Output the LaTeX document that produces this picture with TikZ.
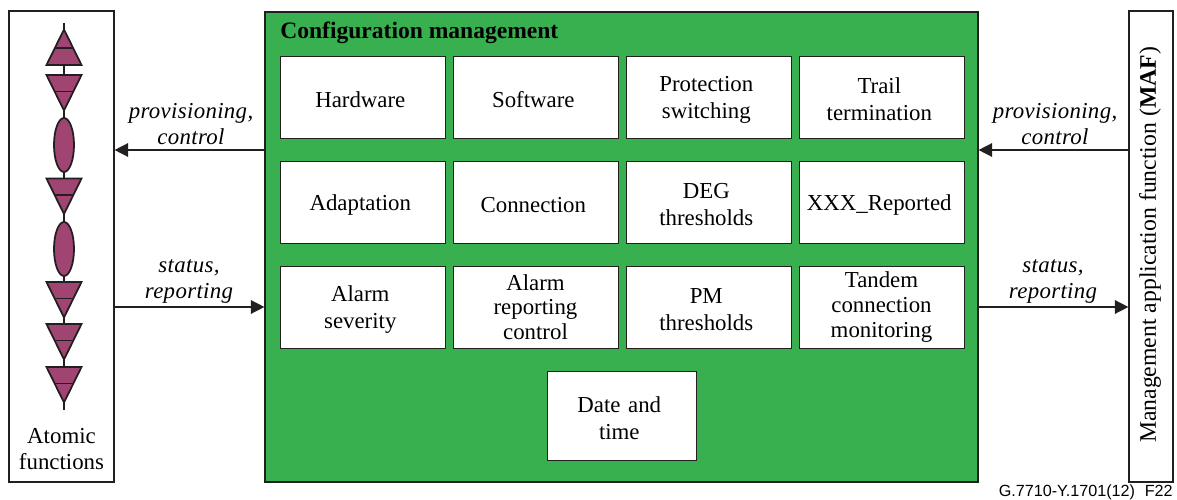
\documentclass[tikz,border=0pt]{standalone}
\usepackage{fontspec}
\setmainfont{Liberation Serif}
\setsansfont{Liberation Sans}
\usetikzlibrary{arrows.meta,shapes.geometric}
\definecolor{cfggreen}{HTML}{39B04F}
\definecolor{atomred}{HTML}{A04572}
\definecolor{inkline}{HTML}{231F20}
\tikzset{
  tightcell/.style={draw=inkline,fill=white,line width=0.55pt,minimum width=3.3cm,minimum height=1.64cm,inner sep=0pt,align=center,font=\fontsize{13}{14}\selectfont},
  cell/.style={tightcell,text width=3.3cm,font=\fontsize{13}{15.4}\selectfont,execute at begin node={\rule{0pt}{12pt}\advance\rightskip 2.5pt}},
  sidebox/.style={draw=inkline,fill=white,line width=0.65pt,inner sep=0pt},
  flowlabel/.style={align=center,inner sep=0pt,font=\fontsize{13}{15.2}\selectfont\itshape\addfontfeature{LetterSpace=1.5}},
  flow/.style={draw=inkline,line width=0.8pt,-{Triangle[length=0.27cm,width=0.27cm]}},
  atom/.style={draw=inkline,fill=atomred,line width=1pt,line join=miter},
  lozenge/.style={atom,ellipse,minimum width=0.4cm,minimum height=1.08cm,inner sep=0pt}
}
\newcommand{\downtri}[1]{%
  \draw[atom] (0.93,#1) -- (1.63,#1) -- (1.28,#1-0.71) -- cycle;
  \draw[atom] (1.10,#1-0.33) -- (1.46,#1-0.33);
}
\begin{document}
\begin{tikzpicture}
  \useasboundingbox (0,0) rectangle (23.54,9.98);

  \coordinate (ctlrow) at (0,6.98);
  \coordinate (statrow) at (0,3.84);

  % outer boxes
  \node[sidebox,minimum width=2.1cm,minimum height=9.42cm] (atomic) at (1.23,5.05) {};
  \node[sidebox,fill=cfggreen,minimum width=14.26cm,minimum height=9.4cm] (config) at (12.43,5.04) {};
  \node[sidebox,minimum width=0.88cm,minimum height=9.42cm] (maf) at (23.02,5.05) {};

  \node[anchor=west,inner sep=0pt,font=\fontsize{13.4}{15}\selectfont\bfseries] (cfgtitle) at (5.6,9.33) {Configuration management};

  % rows of the green box
  \node[cell] (hardware) at (7.25,8.04) {Hardware};
  \node[cell] (software) at (10.71,8.04) {Software};
  \node[cell] (protection) at (14.17,8.04) {Protection\\switching};
  \node[cell] (trail) at (17.63,8.04) {Trail\\termination};

  \node[cell] (adaptation) at (7.25,5.94) {Adaptation};
  \node[cell] (connection) at (10.71,5.94) {Connection};
  \node[cell] (deg) at (14.17,5.94) {DEG\\thresholds};
  \node[cell] (reported) at (17.63,5.94) {XXX\_Reported};

  \node[cell] (severity) at (7.25,3.84) {Alarm\\severity};
  \node[tightcell] (alarmctl) at (10.71,3.84) {Alarm\\reporting\\control};
  \node[cell] (pm) at (14.17,3.84) {PM\\thresholds};
  \node[tightcell] (tandem) at (17.63,3.84) {Tandem\\connection\\monitoring};

  \node[cell,text width=2.98cm,minimum width=2.98cm,minimum height=1.78cm] (datetime) at (12.43,1.67) {Date and\\time};

  % atomic function symbols
  \coordinate (stemtop) at (1.28,9.52);
  \coordinate (stembot) at (1.28,1.78);
  \draw[draw=inkline,line width=0.8pt] (stemtop) -- (stembot);
  \draw[atom] (0.93,8.68) -- (1.63,8.68) -- (1.28,9.39) -- cycle;
  \draw[atom] (1.10,9.02) -- (1.46,9.02);
  \downtri{8.48}
  \node[lozenge] (ovalA) at (1.28,7.08) {};
  \downtri{6.41}
  \node[lozenge] (ovalB) at (1.28,5.0) {};
  \downtri{4.34}
  \downtri{3.5}
  \downtri{2.64}

  \node[align=center,inner sep=0pt,font=\fontsize{13}{15}\selectfont] (atomiclabel) at (1.23,1.0) {Atomic\\functions};

  \node[rotate=90,inner sep=0pt,font=\fontsize{13.5}{15}\selectfont] (maflabel) at (23.0,5.08) {Management application function (\textbf{MAF})};

  % arrows
  \draw[flow] (config.west |- ctlrow) -- (atomic.east |- ctlrow);
  \draw[flow] (atomic.east |- statrow) -- (config.west |- statrow);
  \draw[flow] (maf.west |- ctlrow) -- (config.east |- ctlrow);
  \draw[flow] (config.east |- statrow) -- (maf.west |- statrow);

  \node[flowlabel] (ctlleft) at (3.82,7.5) {provisioning,\\control};
  \node[flowlabel] (statleft) at (3.78,4.35) {status,\\reporting};
  \node[flowlabel] (ctlright) at (21.1,7.5) {provisioning,\\control};
  \node[flowlabel] (statright) at (21.06,4.35) {status,\\reporting};

  \node[anchor=south east,inner sep=0pt,font=\fontsize{9.2}{10}\sffamily\selectfont] (figref) at (23.46,-0.03) {G.7710-Y.1701(12)\hspace{0.6em}F22};
\end{tikzpicture}
\end{document}
